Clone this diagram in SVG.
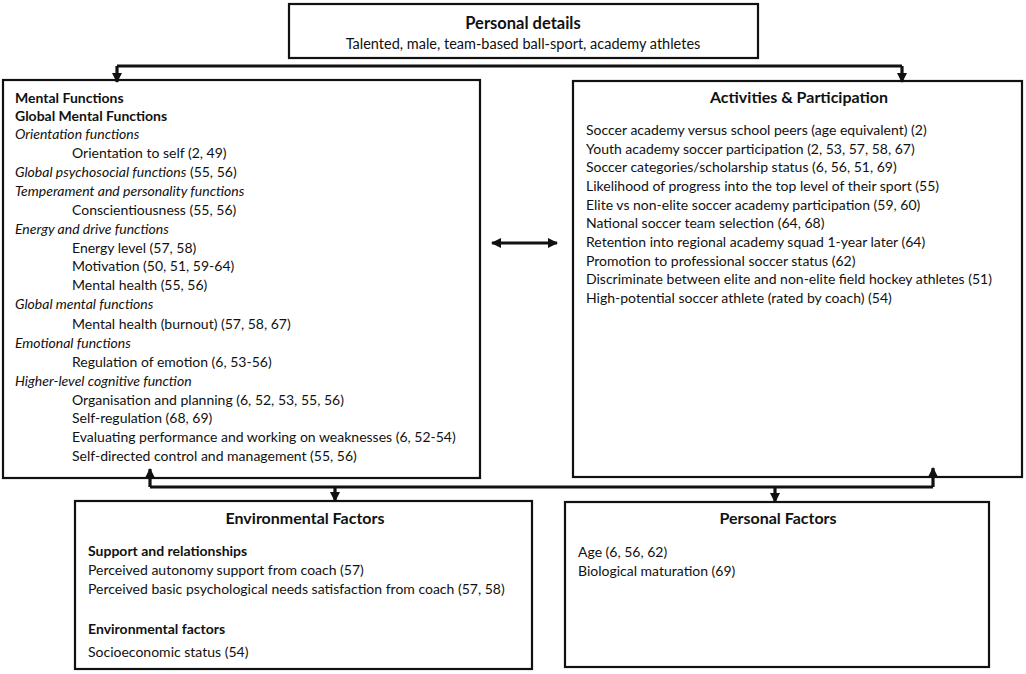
<svg xmlns="http://www.w3.org/2000/svg" width="1026" height="674" viewBox="0 0 1026 674">
<defs>
<style>
.box{fill:#fff;stroke:#111;stroke-width:2.2}
text{font-family:Lato,"Liberation Sans",sans-serif;font-size:14px;fill:#111}
.t{font-weight:bold;font-size:16px;text-anchor:middle}
.b{font-weight:bold}
.i{font-style:italic}
.c{fill:none;stroke:#111;stroke-width:3.2}
</style>
<marker id="ah" viewBox="0 0 10 10" refX="9" refY="5" markerWidth="3.2" markerHeight="3.2" orient="auto" markerUnits="strokeWidth">
<path d="M0,0 L10,5 L0,10 z" fill="#111"/>
</marker>
<marker id="ahs" viewBox="0 0 10 10" refX="1" refY="5" markerWidth="3.2" markerHeight="3.2" orient="auto" markerUnits="strokeWidth">
<path d="M10,0 L0,5 L10,10 z" fill="#111"/>
</marker>
</defs>
<rect width="1026" height="674" fill="#fff"/>
<g id="personal-details">
<rect class="box" x="289" y="4" width="469" height="54"/>
<text class="t" x="523" y="29" style="font-size:16.5px">Personal details</text>
<text x="523" y="49" text-anchor="middle" style="font-size:14.5px">Talented, male, team-based ball-sport, academy athletes</text>
</g>
<g id="mental-functions">
<rect class="box" x="3" y="80" width="477" height="398"/>
<text class="b" x="15" y="103">Mental Functions</text>
<text class="b" x="15" y="121">Global Mental Functions</text>
<text class="i" x="15" y="139">Orientation functions</text>
<text x="72" y="158">Orientation to self (2, 49)</text>
<text x="15" y="177"><tspan class="i">Global psychosocial functions</tspan> (55, 56)</text>
<text class="i" x="15" y="196">Temperament and personality functions</text>
<text x="72" y="215">Conscientiousness (55, 56)</text>
<text class="i" x="15" y="234">Energy and drive functions</text>
<text x="72" y="253">Energy level (57, 58)</text>
<text x="72" y="271">Motivation (50, 51, 59-64)</text>
<text x="72" y="290">Mental health (55, 56)</text>
<text class="i" x="15" y="309">Global mental functions</text>
<text x="72" y="329">Mental health (burnout) (57, 58, 67)</text>
<text class="i" x="15" y="348">Emotional functions</text>
<text x="72" y="367">Regulation of emotion (6, 53-56)</text>
<text class="i" x="15" y="386">Higher-level cognitive function</text>
<text x="72" y="405">Organisation and planning (6, 52, 53, 55, 56)</text>
<text x="72" y="423">Self-regulation (68, 69)</text>
<text x="72" y="442">Evaluating performance and working on weaknesses (6, 52-54)</text>
<text x="72" y="461">Self-directed control and management (55, 56)</text>
</g>
<g id="activities-participation">
<rect class="box" x="573" y="81" width="449" height="396"/>
<text class="t" x="799" y="103">Activities &amp; Participation</text>
<text x="586" y="135">Soccer academy versus school peers (age equivalent) (2)</text>
<text x="586" y="154">Youth academy soccer participation (2, 53, 57, 58, 67)</text>
<text x="586" y="172">Soccer categories/scholarship status (6, 56, 51, 69)</text>
<text x="586" y="191">Likelihood of progress into the top level of their sport (55)</text>
<text x="586" y="210">Elite vs non-elite soccer academy participation (59, 60)</text>
<text x="586" y="228">National soccer team selection (64, 68)</text>
<text x="586" y="247">Retention into regional academy squad 1-year later (64)</text>
<text x="586" y="266">Promotion to professional soccer status (62)</text>
<text x="586" y="284">Discriminate between elite and non-elite field hockey athletes (51)</text>
<text x="586" y="303">High-potential soccer athlete (rated by coach) (54)</text>
</g>
<g id="environmental-factors">
<rect class="box" x="75" y="501" width="457" height="168"/>
<text class="t" x="305" y="524">Environmental Factors</text>
<text class="b" x="88" y="556">Support and relationships</text>
<text x="88" y="575">Perceived autonomy support from coach (57)</text>
<text x="88" y="594">Perceived basic psychological needs satisfaction from coach (57, 58)</text>
<text class="b" x="88" y="634">Environmental factors</text>
<text x="88" y="657">Socioeconomic status (54)</text>
</g>
<g id="personal-factors">
<rect class="box" x="565" y="502" width="424" height="165"/>
<text class="t" x="778" y="524">Personal Factors</text>
<text x="578" y="557">Age (6, 56, 62)</text>
<text x="578" y="576">Biological maturation (69)</text>
</g>
<g id="connectors">
<path class="c" d="M117,66 H902"/>
<path class="c" d="M117,66 V82" marker-end="url(#ah)"/>
<path class="c" d="M902,66 V82" marker-end="url(#ah)"/>
<path class="c" d="M150,487 H933"/>
<path class="c" d="M150,487 V469" marker-end="url(#ah)"/>
<path class="c" d="M933,487 V468" marker-end="url(#ah)"/>
<path class="c" d="M335,487 V501" marker-end="url(#ah)"/>
<path class="c" d="M775,487 V502" marker-end="url(#ah)"/>
<path class="c" d="M492,243 H557" marker-start="url(#ahs)" marker-end="url(#ah)"/>
</g>
</svg>
